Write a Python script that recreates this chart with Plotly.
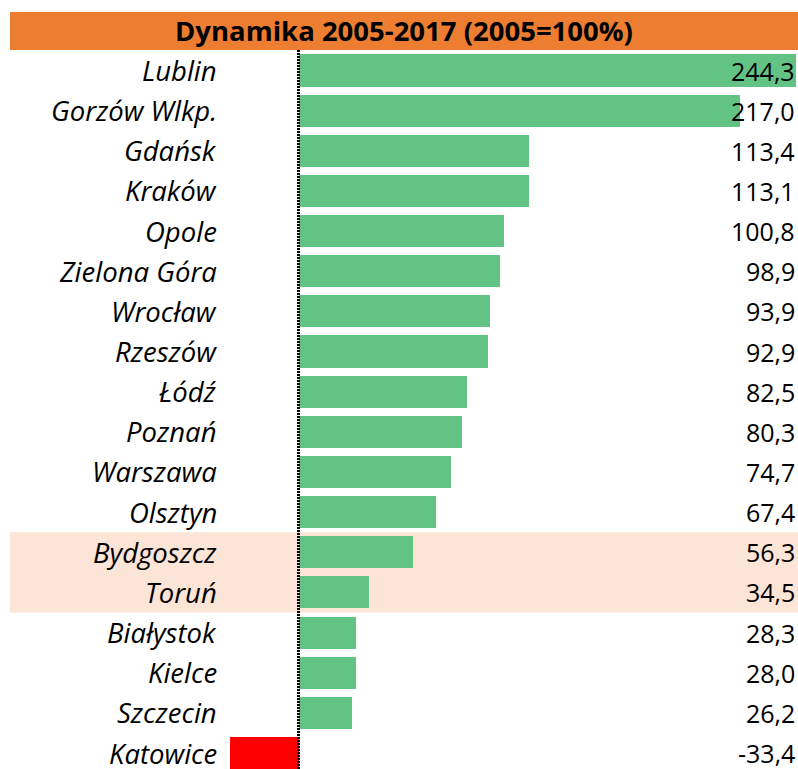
import plotly.graph_objects as go

cities = ["Lublin", "Gorzów Wlkp.", "Gdańsk", "Kraków", "Opole", "Zielona Góra",
          "Wrocław", "Rzeszów", "Łódź", "Poznań", "Warszawa", "Olsztyn",
          "Bydgoszcz", "Toruń", "Białystok", "Kielce", "Szczecin", "Katowice"]
values = [244.3, 217.0, 113.4, 113.1, 100.8, 98.9, 93.9, 92.9, 82.5, 80.3,
          74.7, 67.4, 56.3, 34.5, 28.3, 28.0, 26.2, -33.4]
highlighted = ["Bydgoszcz", "Toruń"]
title_text = "Dynamika 2005-2017 (2005=100%)"

W, H = 798, 769
FONT = "Open Sans"
GREEN = "#63C384"
RED = "#FF0000"

colors = [GREEN if v >= 0 else RED for v in values]
idx = list(range(len(cities)))

fig = go.Figure()
fig.add_trace(go.Bar(
    x=values, y=idx, orientation="h",
    marker=dict(color=colors, line=dict(width=0)),
    width=0.8, hoverinfo="skip",
))

annotations = []
for i, (c, v) in enumerate(zip(cities, values)):
    annotations.append(dict(
        x=219 / W, xref="paper", y=i, yref="y", text="<i>" + c + "</i>",
        xanchor="right", yanchor="middle", showarrow=False,
        font=dict(family=FONT, size=27.5, color="black"),
    ))
    annotations.append(dict(
        x=797 / W, xref="paper", y=i, yref="y",
        text=f"{v:.1f}".replace(".", ","),
        xanchor="right", yanchor="middle", showarrow=False,
        font=dict(family=FONT, size=25, color="black"),
    ))
annotations.append(dict(
    x=404 / W, xref="paper", y=1 - 31 / H, yref="paper", text="<b>" + title_text + "</b>",
    xanchor="center", yanchor="middle", showarrow=False,
    font=dict(family=FONT, size=27.5, color="black"),
))

hi = [cities.index(h) for h in highlighted]
shapes = [
    dict(type="rect", xref="paper", yref="paper", x0=10 / W, x1=1,
         y0=1 - 50 / H, y1=1 - 12 / H, fillcolor="#ED7D31", line=dict(width=0),
         layer="below"),
    dict(type="rect", xref="paper", yref="y", x0=10 / W, x1=1,
         y0=min(hi) - 0.5, y1=max(hi) + 0.5, fillcolor="#FCE4D6",
         line=dict(width=0), layer="below"),
    dict(type="line", xref="x", yref="paper", x0=0, x1=0,
         y0=0, y1=1 - 50 / H, line=dict(color="black", width=3, dash="2px,1px"),
         layer="above"),
]

px_per_unit = (796 - 298.5) / 244.3
x_min = -298.5 / px_per_unit
x_max = (W - 298.5) / px_per_unit
pitch = (753 - 70.5) / 17
y_top = -70.5 / pitch
y_bot = (H - 70.5) / pitch

fig.update_layout(
    width=W, height=H,
    margin=dict(l=0, r=0, t=0, b=0),
    paper_bgcolor="white", plot_bgcolor="rgba(0,0,0,0)",
    showlegend=False,
    xaxis=dict(range=[x_min, x_max], visible=False, fixedrange=True),
    yaxis=dict(range=[y_bot, y_top], visible=False, fixedrange=True),
    annotations=annotations, shapes=shapes,
    bargap=0,
)

fig.write_html(
    "out.html",
    config={"displayModeBar": False},
    post_script="document.body.style.margin='0';document.body.style.overflow='hidden';",
)
